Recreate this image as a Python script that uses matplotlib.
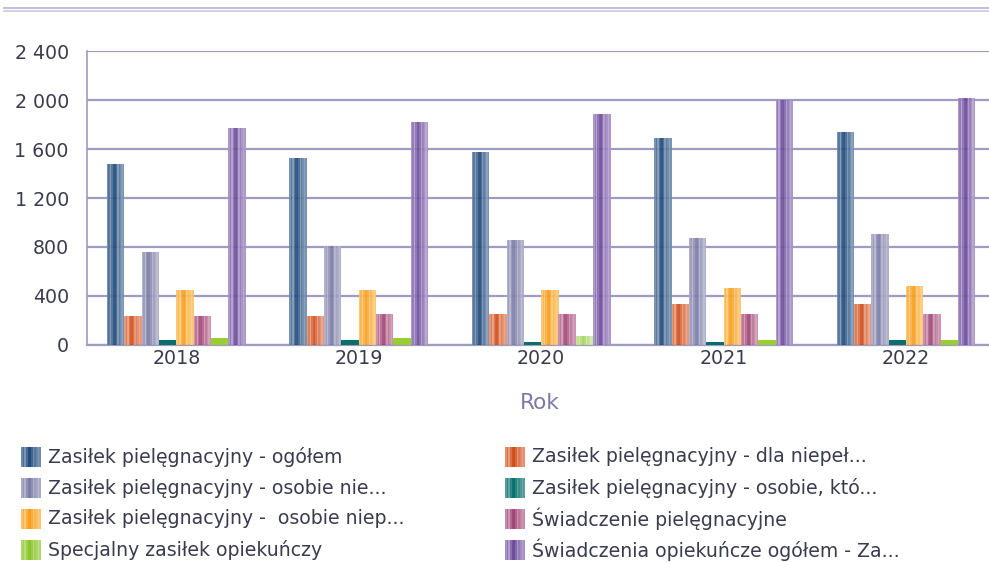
import matplotlib
matplotlib.use("Agg")
import matplotlib.pyplot as plt
from matplotlib.patches import Rectangle
from matplotlib.lines import Line2D
from matplotlib.ticker import FuncFormatter, FixedLocator
from matplotlib.font_manager import FontProperties
import numpy as np

# ---- data ----
years = ["2018", "2019", "2020", "2021", "2022"]
series_names = [
    "Zasiłek pielęgnacyjny - ogółem",
    "Zasiłek pielęgnacyjny - dla niepeł...",
    "Zasiłek pielęgnacyjny - osobie nie...",
    "Zasiłek pielęgnacyjny - osobie, któ...",
    "Zasiłek pielęgnacyjny -  osobie niep...",
    "Świadczenie pielęgnacyjne",
    "Specjalny zasiłek opiekuńczy",
    "Świadczenia opiekuńcze ogółem - Za...",
]
zp_ogolem = [1478, 1527, 1576, 1691, 1740]
zp_dla_niepel = [235, 235, 251, 333, 333]
zp_osobie_nie = [757, 807, 856, 873, 906]
zp_osobie_kto = [38, 38, 22, 22, 38]
zp_osobie_niep = [448, 448, 448, 464, 480]
sw_pielegnacyjne = [235, 251, 251, 251, 251]
specjalny_zas = [55, 55, 71, 38, 38]
sw_opiekuncze = [1773, 1822, 1888, 2000, 2018]
series_values = [zp_ogolem, zp_dla_niepel, zp_osobie_nie, zp_osobie_kto,
                 zp_osobie_niep, sw_pielegnacyjne, specjalny_zas, sw_opiekuncze]
y_ticks = [0, 400, 800, 1200, 1600, 2000, 2400]

# ---- style ----
# (light, dark) pair used for the vertical stripe texture of each series
palette = [
    ("#a3b5cb", "#1f4a7b"),
    ("#f1bca4", "#d04d1c"),
    ("#cbcbdd", "#7c7ba6"),
    ("#86bbb8", "#08706c"),
    ("#ffdb9e", "#f89e1c"),
    ("#e2b8cb", "#a04676"),
    ("#c8e6a0", "#8cc42a"),
    ("#cdbfe2", "#6b4c9a"),
]
solid = {3: "#0b6e6c", 6: "#9acd32"}       # series drawn flat
striped_exception = {(6, 2)}               # (series, year) drawn striped
profile = np.array([0.40, 0.65, 0.30, 0.70, 0.95, 1.0, 0.75, 0.35, 0.60, 0.45, 0.25, 0.40])

def font(size):
    return FontProperties(family="DejaVu Sans", size=size)

def mix(c1, c2, t):
    a = np.array(matplotlib.colors.to_rgb(c1))
    b = np.array(matplotlib.colors.to_rgb(c2))
    return tuple(a + (b - a) * t)

W, H = 989, 562
fig = plt.figure(figsize=(W / 100, H / 100), dpi=100)
fig.patch.set_facecolor("white")

cat_px = 182.4
left_px, bottom_px, top_px = 87, 344.7, 51.3
x_lo, x_hi = -0.49, 4.52
ax = fig.add_axes([left_px / W, (H - bottom_px) / H,
                   (x_hi - x_lo) * cat_px / W, (bottom_px - top_px) / H])
ax.set_xlim(x_lo, x_hi)
ax.set_ylim(0, 2400)

n = len(series_values)
bar_w = 0.095
x = np.arange(len(years))
nst = len(profile)
for s, vals in enumerate(series_values):
    offs = (s - (n - 1) / 2) * bar_w
    light, dark = palette[s]
    for i, v in enumerate(vals):
        cx = x[i] + offs
        if s in solid and (s, i) not in striped_exception:
            ax.bar(cx, v, width=bar_w, color=solid[s], linewidth=0, zorder=3)
        else:
            if (s, i) in striped_exception:
                lt, dk = "#dff0c4", "#a6d45e"
            else:
                lt, dk = light, dark
            sw = bar_w / nst
            xs = cx - bar_w / 2 + sw * (np.arange(nst) + 0.5)
            cols = [mix(lt, dk, t) for t in profile]
            ax.bar(xs, [v] * nst, width=sw * 1.02, color=cols, linewidth=0,
                   alpha=0.92, zorder=3)

# grid and frame
grid_c = "#9e9bc2"
ax.yaxis.set_major_locator(FixedLocator(y_ticks))
ax.grid(axis="y", color=grid_c, linewidth=1.6, zorder=1)
ax.set_axisbelow(True)
for sp in ["top", "right"]:
    ax.spines[sp].set_visible(False)
ax.spines["left"].set_color(grid_c)
ax.spines["left"].set_linewidth(1.2)
ax.spines["bottom"].set_color(grid_c)
ax.spines["bottom"].set_linewidth(1.6)

text_c = "#3b3b4f"
ax.yaxis.set_major_formatter(FuncFormatter(lambda v, p: f"{int(v):,}".replace(",", " ")))
ax.set_xticks(x)
ax.set_xticklabels(years)
ax.tick_params(axis="both", length=0, colors=text_c)
ax.tick_params(axis="y", pad=13)
ax.tick_params(axis="x", pad=3)
for lab in ax.get_xticklabels() + ax.get_yticklabels():
    lab.set_fontproperties(font(13.7))
ax.set_xlabel("Rok", fontproperties=font(15.6), color="#7b7aa6", labelpad=16)
# keep the axis label centred in the visible area
ax.xaxis.set_label_coords((540 - left_px) / ((x_hi - x_lo) * cat_px), -0.165)

# header rule
fig.add_artist(Line2D([4 / W, 1], [1 - 8 / H, 1 - 8 / H], color="#b4b4d4", linewidth=1.2))
fig.add_artist(Line2D([4 / W, 1], [1 - 11 / H, 1 - 11 / H], color="#c8c8e0", linewidth=1.2))

# legend
lax = fig.add_axes([0, 0, 1, 1])
lax.set_xlim(0, W)
lax.set_ylim(H, 0)
lax.axis("off")
col_x = [21, 505]
row_y = [457, 488, 519, 550]
for k, name in enumerate(series_names):
    r, c = divmod(k, 2)
    x0, yc = col_x[c], row_y[r]
    light, dark = palette[k]
    sw = 20 / nst
    for j, t in enumerate(profile):
        lax.add_patch(Rectangle((x0 + j * sw, yc - 10), sw * 1.05, 20,
                                color=mix(light, dark, t), linewidth=0))
    lax.text(x0 + 27, yc, name, fontproperties=font(13.6), color=text_c,
             va="center", ha="left")

fig.savefig("out.png", dpi=100, facecolor="white")
